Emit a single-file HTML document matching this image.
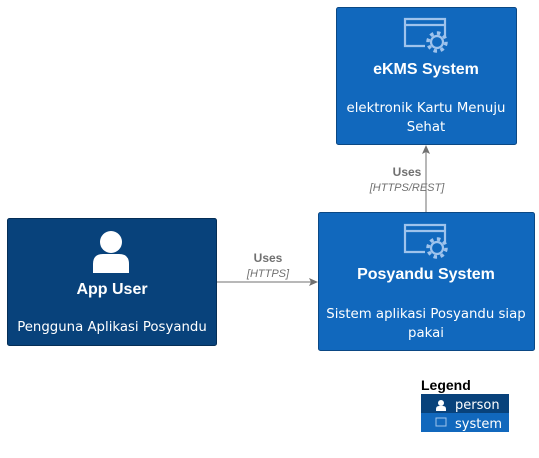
<!DOCTYPE html>
<html><head><meta charset="utf-8"><style>html,body{margin:0;padding:0;background:#fff}svg{display:block}</style></head><body>
<svg width="539" height="458" viewBox="0 0 539 458" xmlns="http://www.w3.org/2000/svg" font-family="Liberation Sans, DejaVu Sans, sans-serif">
<defs>
<g id="ico" fill="none" stroke="#9fc3ec" stroke-width="2.2">
<path d="M22 29 H2 V2 H42 V20"/>
<line x1="2" y1="8" x2="42" y2="8"/>
<circle cx="34" cy="25" r="6"/>
<circle cx="34" cy="25" r="9" stroke-dasharray="3.5 3.5" stroke-width="3.5"/>
</g>
</defs>
<rect x="336.5" y="7.5" width="180" height="137" rx="2" fill="#1168bd" stroke="#0b4884"/>
<use href="#ico" x="403" y="17"/>
<text x="426" y="74" fill="#fff" font-size="16" font-weight="bold" text-anchor="middle">eKMS System</text>
<text x="426" y="112" fill="#fff" font-size="13.3" font-family="DejaVu Sans, sans-serif" text-anchor="middle">elektronik Kartu Menuju</text>
<text x="426" y="131" fill="#fff" font-size="13.3" font-family="DejaVu Sans, sans-serif" text-anchor="middle">Sehat</text>
<rect x="318.5" y="212.5" width="216" height="138" rx="2" fill="#1168bd" stroke="#0b4884"/>
<use href="#ico" x="403" y="223"/>
<text x="426" y="279" fill="#fff" font-size="16" font-weight="bold" text-anchor="middle">Posyandu System</text>
<text x="426" y="318" fill="#fff" font-size="13.3" font-family="DejaVu Sans, sans-serif" text-anchor="middle">Sistem aplikasi Posyandu siap</text>
<text x="426" y="337" fill="#fff" font-size="13.3" font-family="DejaVu Sans, sans-serif" text-anchor="middle">pakai</text>
<rect x="7.5" y="218.5" width="209" height="127" rx="2" fill="#08427b" stroke="#052e56"/>
<circle cx="111" cy="242" r="11" fill="#fff"/>
<path d="M93 273 V264 Q93 254 103 254 H119 Q129 254 129 264 V273 Z" fill="#fff"/>
<text x="112" y="294" fill="#fff" font-size="16" font-weight="bold" text-anchor="middle">App User</text>
<text x="112" y="331" fill="#fff" font-size="13.3" font-family="DejaVu Sans, sans-serif" text-anchor="middle">Pengguna Aplikasi Posyandu</text>
<line x1="217" y1="282" x2="312" y2="282" stroke="#707070"/>
<path d="M318 282 L309 278 L311 282 L309 286 Z" fill="#707070"/>
<text x="268" y="262" fill="#707070" font-size="12" font-weight="bold" text-anchor="middle">Uses</text>
<text x="268" y="277" fill="#707070" font-size="11" font-style="italic" text-anchor="middle">[HTTPS]</text>
<line x1="426" y1="212" x2="426" y2="151" stroke="#707070"/>
<path d="M426 145 L422 154 L426 152 L430 154 Z" fill="#707070"/>
<text x="407" y="176" fill="#707070" font-size="12" font-weight="bold" text-anchor="middle">Uses</text>
<text x="407" y="191" fill="#707070" font-size="11" font-style="italic" text-anchor="middle">[HTTPS/REST]</text>
<text x="421" y="390" fill="#000" font-size="14" font-weight="bold">Legend</text>
<rect x="421" y="394" width="88" height="19" fill="#08427b"/>
<rect x="421" y="413" width="88" height="19" fill="#1168bd"/>
<circle cx="441" cy="403" r="3" fill="#fff"/>
<path d="M436 411 V409 Q436 406 439 406 H443 Q446 406 446 409 V411 Z" fill="#fff"/>
<rect x="436" y="418" width="10" height="8" fill="none" stroke="#9fc3ec"/>
<text x="455" y="409" fill="#fff" font-size="13" font-family="DejaVu Sans, sans-serif">person</text>
<text x="455" y="428" fill="#fff" font-size="13" font-family="DejaVu Sans, sans-serif">system</text>
</svg>
</body></html>
